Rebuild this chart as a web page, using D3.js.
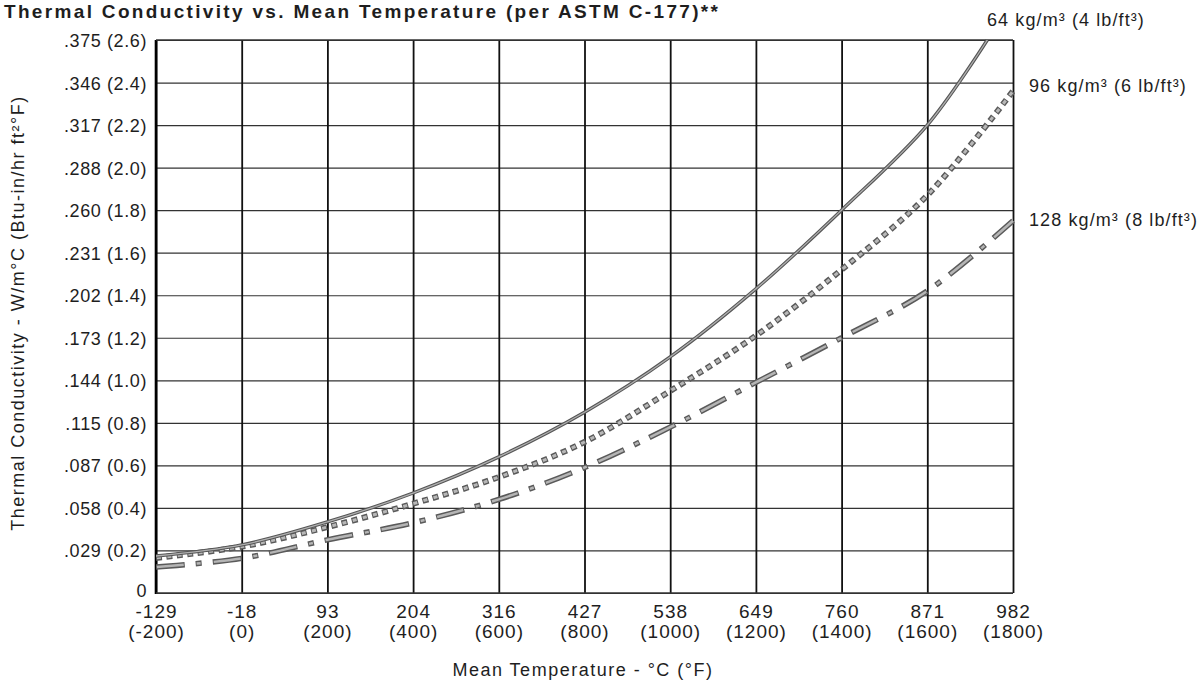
<!DOCTYPE html>
<html><head><meta charset="utf-8">
<script src="https://cdn.jsdelivr.net/npm/d3@7"></script>
<style>
body{margin:0;background:#fff}
svg{display:block}
text{font-family:"Liberation Sans",Arial,Helvetica,sans-serif;fill:#1e1e1e}
</style>
</head><body><svg id="chart" width="1201" height="685"></svg>
<script>
// ---- data ----
const title = "Thermal Conductivity vs. Mean Temperature (per ASTM C-177)**";
const xTitle = "Mean Temperature - \u00B0C (\u00B0F)";
const yTitle = "Thermal Conductivity - W/m\u00B0C (Btu-in/hr ft\u00B2\u00B0F)";
const tempF = [-200,0,200,400,600,800,1000,1200,1400,1600,1800];
const tempCLabels = ["-129","-18","93","204","316","427","538","649","760","871","982"];
const kImp = [0,0.2,0.4,0.6,0.8,1.0,1.2,1.4,1.6,1.8,2.0,2.2,2.4,2.6];
const kMetricLabels = ["0",".029",".058",".087",".115",".144",".173",".202",".231",".260",".288",".317",".346",".375"];
const seriesNames = ["64 kg/m\u00B3 (4 lb/ft\u00B3)","96 kg/m\u00B3 (6 lb/ft\u00B3)","128 kg/m\u00B3 (8 lb/ft\u00B3)"];
const d64T = [-200,0,200,400,600,800,1000,1200,1400,1600,1740];
const d64K = [0.174,0.226,0.334,0.47,0.64,0.85,1.11,1.43,1.80,2.20,2.60];
const d96T = [-200,0,200,400,600,800,1000,1200,1400,1600,1800];
const d96K = [0.165,0.218,0.31,0.42,0.545,0.71,0.95,1.21,1.52,1.87,2.36];
const d128T = [-200,0,200,400,600,800,1000,1200,1400,1600,1800];
const d128K = [0.122,0.163,0.25,0.33,0.44,0.59,0.78,0.99,1.20,1.42,1.75];

// ---- layout ----
const svg = d3.select("#chart");
const L = 156, R = 1013, T = 40, B = 593;
const x = d3.scaleLinear().domain([-200,1800]).range([L,R]);
const y = d3.scaleLinear().domain([0,2.6]).range([B,T]);

// title
svg.append("text").attr("x",4).attr("y",18)
  .attr("font-size",19).attr("font-weight","bold")
  .attr("textLength",714).attr("lengthAdjust","spacing")
  .text(title);

// horizontal grid via axis
const gy = svg.append("g").attr("transform",`translate(${L},0)`)
  .call(d3.axisLeft(y).tickValues(kImp).tickSize(-(R-L)).tickFormat(""));
gy.select(".domain").remove();
gy.selectAll(".tick line").attr("stroke","#333").attr("stroke-width",1.2);

// vertical grid via axis
const gx = svg.append("g").attr("transform",`translate(0,${B})`)
  .call(d3.axisBottom(x).tickValues(tempF).tickSize(-(B-T)).tickFormat(""));
gx.select(".domain").remove();
gx.selectAll(".tick line").attr("stroke","#111").attr("stroke-width",1.8);

// frame
svg.append("line").attr("x1",L).attr("x2",L).attr("y1",T).attr("y2",B+1).attr("stroke","#000").attr("stroke-width",2.6);
svg.append("line").attr("x1",L).attr("x2",R).attr("y1",B).attr("y2",B).attr("stroke","#333").attr("stroke-width",1.3);
svg.append("line").attr("x1",L).attr("x2",R).attr("y1",T).attr("y2",T).attr("stroke","#333").attr("stroke-width",1.3);

// y tick labels
gy.selectAll(".tick").each(function(d,i){
  d3.select(this).append("text")
    .attr("x",-9).attr("dy", d===0 ? "0.22em" : "0.36em")
    .attr("text-anchor","end").attr("font-size",18).attr("letter-spacing",0.6)
    .style("fill","#1e1e1e")
    .text(d===0 ? "0" : `${kMetricLabels[i]} (${d.toFixed(1)})`);
});

// x tick labels (two lines)
gx.selectAll(".tick").each(function(d,i){
  const t = d3.select(this).append("text").attr("text-anchor","middle")
    .attr("font-size",19).attr("letter-spacing",1.0).style("fill","#1e1e1e");
  t.append("tspan").attr("x",0).attr("y",25).text(tempCLabels[i]);
  t.append("tspan").attr("x",0).attr("y",45).text(`(${d})`);
});

// axis titles
svg.append("text").attr("x",583).attr("y",676).attr("text-anchor","middle")
  .attr("font-size",18).attr("letter-spacing",1.5).text(xTitle);
svg.append("text").attr("transform","translate(24,313) rotate(-90)")
  .attr("text-anchor","middle").attr("font-size",18).attr("letter-spacing",1.5).text(yTitle);

// curves
svg.append("clipPath").attr("id","clip").append("rect")
  .attr("x",L).attr("y",T-2).attr("width",R-L+2).attr("height",B-T+4);
const line = d3.line().x(d=>x(d[0])).y(d=>y(d[1])).curve(d3.curveCatmullRom.alpha(0.5));
const cg = svg.append("g").attr("clip-path","url(#clip)");
const p64 = d3.zip(d64T,d64K), p96 = d3.zip(d96T,d96K), p128 = d3.zip(d128T,d128K);

// 128 dashed (long-short)
cg.append("path").attr("d",line(p128)).attr("fill","none")
  .attr("stroke","#5a5a5a").attr("stroke-width",5.5).attr("stroke-dasharray","29,11,6,11");
cg.append("path").attr("d",line(p128)).attr("fill","none")
  .attr("stroke","#b5b5b5").attr("stroke-width",2.5).attr("stroke-dasharray","27,13,4,13").attr("stroke-dashoffset",-1);
// 96 dotted (square dots)
cg.append("path").attr("d",line(p96)).attr("fill","none")
  .attr("stroke","#5a5a5a").attr("stroke-width",6).attr("stroke-dasharray","6,4.5");
cg.append("path").attr("d",line(p96)).attr("fill","none")
  .attr("stroke","#b8b8b8").attr("stroke-width",3).attr("stroke-dasharray","4,6.5").attr("stroke-dashoffset",-1);
// 64 solid
cg.append("path").attr("d",line(p64)).attr("fill","none")
  .attr("stroke","#555").attr("stroke-width",3.4);
cg.append("path").attr("d",line(p64)).attr("fill","none")
  .attr("stroke","#b0b0b0").attr("stroke-width",1.3);

// series labels
const labelPos = [[987,26],[1029,92],[1029,226]];
seriesNames.forEach((n,i)=>{
  svg.append("text").attr("x",labelPos[i][0]).attr("y",labelPos[i][1])
    .attr("font-size",18).attr("letter-spacing",1.1).text(n);
});
</script>
</body></html>
